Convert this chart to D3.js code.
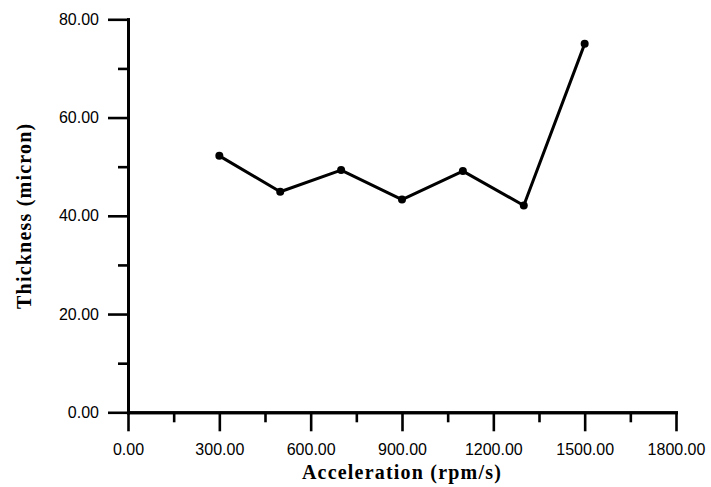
<!DOCTYPE html>
<html>
<head>
<meta charset="utf-8">
<script src="https://cdn.jsdelivr.net/npm/d3@7"></script>
<style>
  html, body { margin: 0; padding: 0; background: #fff; }
  svg { display: block; }
  .tick text { font-family: "Liberation Sans", Arial, sans-serif; font-size: 16px; fill: #000; }
  .axis-title { font-family: "Liberation Serif", "Times New Roman", serif; font-weight: bold; font-size: 20px; fill: #000; }
</style>
</head>
<body>
<svg id="chart" width="711" height="487"></svg>
<script>
// Spin-coating acceleration vs. film thickness
const acceleration = [300, 500, 700, 900, 1100, 1300, 1500];
const thickness = [52.2, 44.9, 49.3, 43.3, 49.1, 42.1, 75.0];

const xMajorTicks = [0, 300, 600, 900, 1200, 1500, 1800];
const xMinorTicks = [150, 450, 750, 1050, 1350, 1650];
const yMajorTicks = [0, 20, 40, 60, 80];
const yMinorTicks = [10, 30, 50, 70];

const xTitle = "Acceleration (rpm/s)";
const yTitle = "Thickness (micron)";

const svg = d3.select("#chart");

const x = d3.scaleLinear().domain([0, 1800]).range([128, 676]);
const y = d3.scaleLinear().domain([0, 80]).range([412.3, 19.3]);

const fmt = d3.format(".2f");

function styleAxis(g) {
  g.select(".domain").attr("stroke", "#000").attr("stroke-width", 3).attr("stroke-linecap", "square");
  g.selectAll(".tick line").attr("stroke", "#000").attr("stroke-width", 2.6);
}

// minor ticks (no labels)
svg.append("g")
  .attr("transform", `translate(0,${y(0)})`)
  .call(d3.axisBottom(x).tickValues(xMinorTicks).tickSize(10).tickSizeOuter(0).tickFormat(""))
  .call(styleAxis);

svg.append("g")
  .attr("transform", `translate(${x(0)},0)`)
  .call(d3.axisLeft(y).tickValues(yMinorTicks).tickSize(10).tickSizeOuter(0).tickFormat(""))
  .call(styleAxis);

// major ticks with labels
svg.append("g")
  .attr("transform", `translate(0,${y(0)})`)
  .call(d3.axisBottom(x).tickValues(xMajorTicks).tickSize(19).tickSizeOuter(0).tickPadding(12.5).tickFormat(fmt))
  .call(styleAxis)
  .call(g => g.selectAll(".tick text").attr("font-family", null).attr("font-size", null));

svg.append("g")
  .attr("transform", `translate(${x(0)},0)`)
  .call(d3.axisLeft(y).tickValues(yMajorTicks).tickSize(20).tickSizeOuter(0).tickPadding(9).tickFormat(fmt))
  .call(styleAxis)
  .call(g => g.selectAll(".tick text").attr("font-family", null).attr("font-size", null));

// data line
const line = d3.line()
  .x((d, i) => x(acceleration[i]))
  .y(d => y(d));

svg.append("path")
  .datum(thickness)
  .attr("fill", "none")
  .attr("stroke", "#000")
  .attr("stroke-width", 3)
  .attr("stroke-linejoin", "round")
  .attr("d", line);

svg.append("g")
  .selectAll("circle")
  .data(thickness)
  .join("circle")
  .attr("cx", (d, i) => x(acceleration[i]))
  .attr("cy", d => y(d))
  .attr("r", 4)
  .attr("fill", "#000");

// axis titles
svg.append("text")
  .attr("class", "axis-title")
  .attr("x", (x.range()[0] + x.range()[1]) / 2)
  .attr("y", 479)
  .attr("text-anchor", "middle")
  .attr("letter-spacing", "1.2px")
  .text(xTitle);

svg.append("text")
  .attr("class", "axis-title")
  .attr("transform", `translate(31,${(y.range()[0] + y.range()[1]) / 2}) rotate(-90)`)
  .attr("text-anchor", "middle")
  .attr("letter-spacing", "1.2px")
  .text(yTitle);
</script>
</body>
</html>
